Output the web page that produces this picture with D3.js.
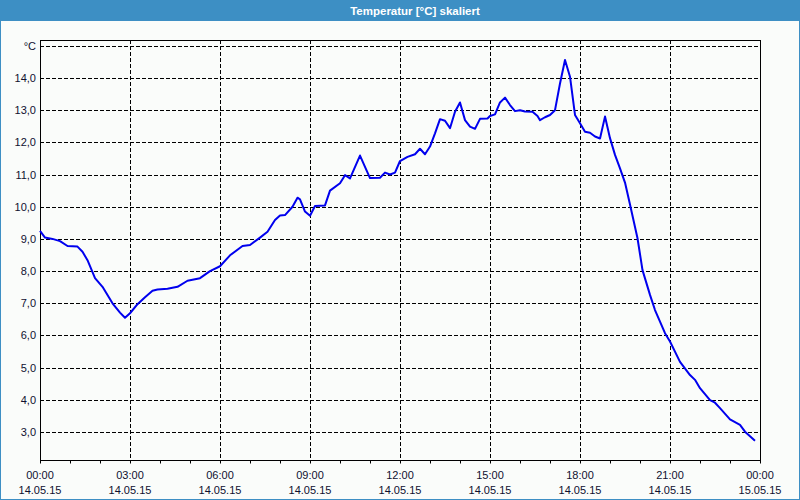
<!DOCTYPE html>
<html>
<head>
<meta charset="utf-8">
<script src="https://cdn.jsdelivr.net/npm/d3@7"></script>
<style>
  html, body { margin: 0; padding: 0; background: #fafcfa; }
  svg { display: block; }
  text { font-family: "Liberation Sans", Arial, sans-serif; }
</style>
</head>
<body>
<svg id="chart" width="800" height="500"></svg>
<script>
// ---- data ----
const title = "Temperatur [°C] skaliert";
const unitLabel = "°C";
// minutes after 14.05.15 00:00
const minutes = [0,10,25,40,55,75,85,95,110,125,145,160,170,180,195,210,225,235,255,275,295,320,340,360,380,405,420,440,455,470,480,490,505,515,520,530,540,550,570,580,600,610,620,640,660,680,690,700,710,720,735,750,760,770,780,790,800,810,820,830,840,850,860,870,880,895,900,910,920,930,940,950,960,970,985,995,1000,1010,1020,1030,1040,1050,1060,1070,1080,1090,1100,1110,1120,1130,1140,1150,1160,1170,1180,1195,1205,1220,1230,1250,1260,1280,1300,1310,1320,1340,1350,1360,1380,1400,1410,1430];
const temps = [9.25,9.04,9.00,8.93,8.78,8.76,8.60,8.34,7.78,7.51,7.00,6.71,6.55,6.69,6.97,7.19,7.39,7.43,7.45,7.51,7.70,7.78,8.00,8.15,8.49,8.78,8.81,9.04,9.22,9.59,9.73,9.74,10.00,10.28,10.23,9.85,9.72,10.02,10.04,10.50,10.73,10.98,10.88,11.59,10.89,10.90,11.06,11.00,11.06,11.42,11.55,11.63,11.80,11.63,11.87,12.28,12.72,12.67,12.44,12.95,13.24,12.69,12.49,12.42,12.73,12.74,12.82,12.87,13.24,13.39,13.16,12.97,13.00,12.96,12.95,12.82,12.69,12.78,12.85,13.00,13.83,14.56,14.04,12.85,12.59,12.33,12.30,12.18,12.12,12.80,12.13,11.61,11.19,10.75,10.07,9.02,8.03,7.26,6.79,6.07,5.81,5.18,4.77,4.62,4.36,3.99,3.91,3.74,3.39,3.22,3.01,2.73];
const yTicks = [3,4,5,6,7,8,9,10,11,12,13,14,15];
const xLabelHours = [0,3,6,9,12,15,18,21,24];
const startDate = new Date(2015, 4, 14, 0, 0);
const endDate = new Date(2015, 4, 15, 0, 0);

// ---- layout ----
const svg = d3.select("#chart");
const W = 800, H = 500;
const pLeft = 40, pRight = 760, pTop = 40, pBottom = 460;

// frame + title bar
svg.append("rect").attr("x", 0).attr("y", 0).attr("width", W).attr("height", H).attr("fill", "#fafcfa");
svg.append("rect").attr("x", 0).attr("y", 0).attr("width", W).attr("height", 21).attr("fill", "#3d8fc4");
svg.append("rect").attr("x", 0.5).attr("y", 0.5).attr("width", W - 1).attr("height", H - 1)
  .attr("fill", "none").attr("stroke", "#3d8fc4").attr("stroke-width", 1);
svg.append("text").attr("x", 415).attr("y", 15).attr("text-anchor", "middle")
  .attr("fill", "#ffffff").attr("font-weight", "bold").attr("font-size", "11.5px").text(title);

const x = d3.scaleTime().domain([startDate, endDate]).range([pLeft, pRight]);
const y = d3.scaleLinear().domain([2.13, 15.18]).range([pBottom, pTop]);

// gridlines horizontal
const g = svg.append("g");
g.selectAll("line.hg").data(yTicks).join("line")
  .attr("x1", pLeft).attr("x2", pRight)
  .attr("y1", d => Math.round(y(d)) + 0.5).attr("y2", d => Math.round(y(d)) + 0.5)
  .attr("stroke", "#000").attr("stroke-width", 1).attr("stroke-dasharray", "4,2");
// gridlines vertical
const vHours = xLabelHours.filter(h => h > 0 && h < 24);
g.selectAll("line.vg").data(vHours).join("line")
  .attr("x1", d => Math.round(x(d3.timeHour.offset(startDate, d))) + 0.5)
  .attr("x2", d => Math.round(x(d3.timeHour.offset(startDate, d))) + 0.5)
  .attr("y1", pTop).attr("y2", pBottom)
  .attr("stroke", "#000").attr("stroke-width", 1).attr("stroke-dasharray", "4,2");

// plot frame
svg.append("rect").attr("x", pLeft + 0.5).attr("y", pTop + 0.5).attr("width", pRight - pLeft).attr("height", pBottom - pTop)
  .attr("fill", "none").attr("stroke", "#000").attr("stroke-width", 1);

// x axis ticks (every hour)
const xAxis = d3.axisBottom(x).ticks(d3.timeHour.every(1)).tickSize(3).tickFormat("");
const xa = svg.append("g").attr("transform", `translate(0,${pBottom + 0.5})`).call(xAxis);
xa.select(".domain").remove();
xa.selectAll(".tick line").attr("stroke", "#000");

// x labels (two lines)
const fmtTime = d3.timeFormat("%H:%M");
const fmtDate = d3.timeFormat("%d.%m.%y");
const xl = svg.append("g");
xLabelHours.forEach(h => {
  const d = d3.timeHour.offset(startDate, h);
  const t = xl.append("text").attr("x", x(d)).attr("text-anchor", "middle")
    .attr("font-size", "11px").attr("fill", "#101030");
  t.append("tspan").attr("x", x(d)).attr("y", 479).text(fmtTime(d));
  t.append("tspan").attr("x", x(d)).attr("y", 494).text(fmtDate(d));
});

// y labels
const yAxis = d3.axisLeft(y).tickValues(yTicks).tickSize(0).tickPadding(4)
  .tickFormat(d => d === 15 ? unitLabel : d3.format(".1f")(d).replace(".", ","));
const ya = svg.append("g").attr("transform", `translate(${pLeft},0)`).call(yAxis);
ya.select(".domain").remove();
ya.selectAll("text").attr("font-size", "11px").attr("fill", "#101030")
  .attr("font-family", "'Liberation Sans', Arial, sans-serif");

// line
const data = minutes.map((m, i) => ({ t: d3.timeMinute.offset(startDate, m), v: temps[i] }));
const line = d3.line().x(d => x(d.t)).y(d => y(d.v));
svg.append("path").datum(data).attr("d", line)
  .attr("fill", "none").attr("stroke", "#0000ee").attr("stroke-width", 2)
  .attr("stroke-linejoin", "round");
</script>
</body>
</html>
